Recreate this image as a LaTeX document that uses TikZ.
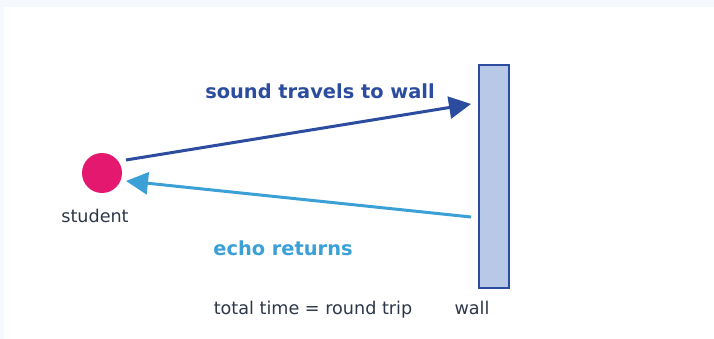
\documentclass[tikz,border=0pt]{standalone}
\usepackage{fontspec}
\setmainfont{DejaVu Sans}
\usetikzlibrary{arrows.meta}
\definecolor{bgstrip}{HTML}{F5F9FE}
\definecolor{dblue}{HTML}{2B4C9F}
\definecolor{lblue}{HTML}{3AA0D5}
\definecolor{pinkc}{HTML}{E5186F}
\definecolor{wallfill}{HTML}{B8C9E8}
\definecolor{txt}{HTML}{2D3748}
\tikzset{
  lbl/.style={text=txt, font=\fontsize{17.6}{20}\selectfont, inner sep=0pt, anchor=base},
  blbl/.style={font=\bfseries\fontsize{19.4}{22}\selectfont, inner sep=0pt, anchor=base},
  arr/.style={line width=3pt, -{Triangle[length=22pt,width=22pt]}},
}
\begin{document}
\begin{tikzpicture}[x=1pt,y=-1pt]
\useasboundingbox (0,0) rectangle (714,339);
\fill[bgstrip] (0,0) rectangle (714,339);
\fill[white] (4,7) rectangle (714,339);
\node[circle, fill=pinkc, minimum size=40pt, inner sep=0pt] (student) at (102,173) {};
\node[lbl] (slabel) at (95,222) {student};
\node[draw=dblue, line width=2pt, fill=wallfill, minimum width=30pt, minimum height=223pt, inner sep=0pt] (wall) at (494,176.5) {};
\node[lbl] (wlabel) at (472,314) {wall};
\coordinate (a1s) at (126,160);
\coordinate (a1e) at (471,104);
\coordinate (a2s) at (471,217);
\coordinate (a2e) at (126,181);
\draw[arr, dblue] (a1s) -- (a1e);
\draw[arr, lblue] (a2s) -- (a2e);
\node[blbl, text=dblue] (t1) at (320,99) {sound travels to wall};
\node[blbl, text=lblue] (t2) at (283,255) {echo returns};
\node[lbl] (t3) at (313,314) {total time = round trip};
\end{tikzpicture}
\end{document}
